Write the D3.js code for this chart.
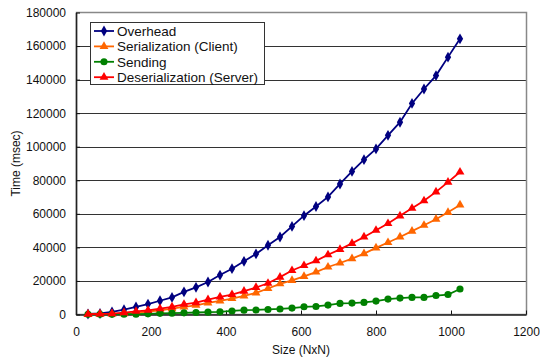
<!DOCTYPE html>
<html>
<head>
<meta charset="utf-8">
<script src="https://cdn.jsdelivr.net/npm/d3@7"></script>
<style>
  body { margin: 0; background: #fff; }
  svg { display: block; font-family: "Liberation Sans", Arial, sans-serif; }
</style>
</head>
<body>
<svg class="chart"></svg>
<script>
const sizes = [32, 64, 96, 128, 160, 192, 224, 256, 288, 320, 352, 384, 416, 448, 480, 512,
  544, 576, 608, 640, 672, 704, 736, 768, 800, 832, 864, 896, 928, 960, 992, 1024];

const overhead = [300, 600, 1500, 2900, 4500, 6200, 8200, 10200, 13500, 16200, 19400, 23500, 27300, 31700, 36100, 41300,
  46200, 52500, 58900, 64400, 70100, 77800, 85300, 92300, 98700, 106800, 114600, 125800, 134400, 142400, 153400, 164300];
const serialization = [100, 200, 300, 500, 900, 1800, 2500, 3500, 4500, 5500, 6900, 8100, 9500, 11100, 12900, 15500,
  18300, 20300, 22700, 25300, 28300, 30700, 33300, 36300, 39700, 42900, 46200, 49700, 53200, 56800, 60900, 65300];
const sending = [100, 100, 100, 200, 200, 400, 700, 800, 1000, 1200, 1400, 1600, 2100, 2600, 2700, 3000,
  3300, 3800, 4600, 4800, 5600, 6600, 6800, 7200, 8000, 9200, 9800, 10200, 10200, 11300, 11900, 15200];
const deserialization = [200, 300, 500, 1100, 1900, 2500, 3500, 4500, 6100, 7100, 8900, 10500, 11900, 13900, 16100, 18600,
  22300, 26200, 29200, 32000, 35600, 38800, 42400, 46200, 50200, 54200, 58800, 63300, 67800, 73100, 78900, 84900];

const xTicks = [0, 200, 400, 600, 800, 1000, 1200];
const yTicks = [0, 20000, 40000, 60000, 80000, 100000, 120000, 140000, 160000, 180000];

const series = [
  {name: 'Overhead', values: overhead, color: '#000080', symbol: d3.symbolDiamond, size: 34},
  {name: 'Serialization (Client)', values: serialization, color: '#FF6600', symbol: d3.symbolTriangle, size: 34},
  {name: 'Sending', values: sending, color: '#008000', symbol: d3.symbolCircle, size: 40},
  {name: 'Deserialization (Server)', values: deserialization, color: '#FF0000', symbol: d3.symbolTriangle, size: 34}
];

const svgWidth = 540;
const svgHeight = 360;
const plot = {left: 76, right: 526, top: 12.5, bottom: 314.5};

const svg = d3.select('.chart')
  .attr('width', svgWidth)
  .attr('height', svgHeight);

const x = d3.scaleLinear().domain([0, 1200]).range([plot.left, plot.right]);
const y = d3.scaleLinear().domain([0, 180000]).range([plot.bottom, plot.top]);

// gridlines
svg.append('g')
  .selectAll('line')
  .data(yTicks.slice(1, -1))
  .join('line')
  .attr('x1', plot.left)
  .attr('x2', plot.right)
  .attr('y1', d => Math.round(y(d)) + 0.5)
  .attr('y2', d => Math.round(y(d)) + 0.5)
  .attr('stroke', '#333')
  .attr('stroke-width', 1);

// plot border (gray)
svg.append('rect')
  .attr('x', plot.left + 0.5)
  .attr('y', plot.top)
  .attr('width', plot.right - plot.left)
  .attr('height', plot.bottom - plot.top)
  .attr('fill', 'none')
  .attr('stroke', '#888')
  .attr('stroke-width', 1.5);

// axes
const xAxis = svg.append('g')
  .attr('transform', `translate(0, ${plot.bottom})`)
  .call(d3.axisBottom(x).tickValues(xTicks).tickSize(-4).tickPadding(13).tickSizeOuter(0).tickFormat(d3.format('d')));
const yAxis = svg.append('g')
  .attr('transform', `translate(${plot.left}, 0)`)
  .call(d3.axisLeft(y).tickValues(yTicks).tickSize(-4).tickPadding(10).tickSizeOuter(0).tickFormat(d3.format('d')));

[xAxis, yAxis].forEach(ax => {
  ax.select('.domain').attr('stroke', '#222').attr('stroke-width', 1.5);
  ax.selectAll('.tick line').attr('stroke', '#111');
  ax.selectAll('text')
    .attr('fill', '#111')
    .style('font-size', '12px')
    .style('font-family', '"Liberation Sans", Arial, sans-serif');
});

// series
const line = d3.line()
  .x((d, i) => x(sizes[i]))
  .y(d => y(d));

series.forEach(s => {
  svg.append('path')
    .attr('d', line(s.values))
    .attr('fill', 'none')
    .attr('stroke', s.color)
    .attr('stroke-width', 1.8);

  svg.append('g')
    .selectAll('path')
    .data(s.values)
    .join('path')
    .attr('transform', (d, i) => `translate(${x(sizes[i])}, ${y(d)})`)
    .attr('d', d3.symbol().type(s.symbol).size(s.size))
    .attr('fill', s.color);
});

// axis titles
svg.append('text')
  .attr('x', 301)
  .attr('y', 354)
  .attr('text-anchor', 'middle')
  .style('font-size', '12px')
  .attr('fill', '#111')
  .text('Size (NxN)');

svg.append('text')
  .attr('transform', `translate(20 ${(plot.top + plot.bottom) / 2}) rotate(-90)`)
  .attr('text-anchor', 'middle')
  .style('font-size', '12px')
  .attr('fill', '#111')
  .text('Time (msec)');

// legend
const legend = svg.append('g').attr('class', 'legend');
legend.append('rect')
  .attr('x', 90.5)
  .attr('y', 22.5)
  .attr('width', 174)
  .attr('height', 62)
  .attr('fill', '#fff')
  .attr('stroke', '#333')
  .attr('stroke-width', 1);

series.forEach((s, i) => {
  const ly = 31 + i * 15.4;
  legend.append('line')
    .attr('x1', 94)
    .attr('x2', 114)
    .attr('y1', ly)
    .attr('y2', ly)
    .attr('stroke', s.color)
    .attr('stroke-width', 1.8);
  legend.append('path')
    .attr('transform', `translate(104, ${ly})`)
    .attr('d', d3.symbol().type(s.symbol).size(s.size))
    .attr('fill', s.color);
  legend.append('text')
    .attr('x', 117)
    .attr('y', ly)
    .attr('dy', '0.36em')
    .style('font-size', '13.5px')
    .attr('fill', '#111')
    .text(s.name);
});
</script>
</body>
</html>
